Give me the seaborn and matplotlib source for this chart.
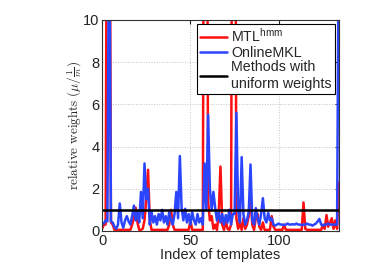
import numpy as np
import pandas as pd
import seaborn as sns
import matplotlib
matplotlib.use("Agg")
import matplotlib.pyplot as plt

# relative weights per template index
mtl_hmm = [0.1, 0.3, 0.3, 25, 25, 0.4, 0.3, 0.05, 0.05, 0.05,
           0.05, 0.05, 0.05, 0.05, 0.05, 0.05, 0.05, 0.3, 0.6, 1.1,
           0.4, 0.05, 0.05, 0.1, 0.5, 1.5, 2.9, 0.5, 0.05, 0.05,
           0.05, 0.05, 0.05, 0.05, 0.05, 0.05, 0.05, 0.05, 0.3, 1.0,
           0.3, 0.05, 0.05, 0.05, 0.05, 0.05, 0.05, 0.05, 0.05, 0.05,
           0.5, 0.05, 0.05, 0.05, 0.05, 0.05, 0.05, 0.05, 30, 30,
           1.4, 0.5, 0.7, 0.1, 0.3, 0.05, 0.8, 3.05, 0.3, 0.05,
           0.5, 0.1, 0.05, 0.3, 30, 30, 0.6, 0.1, 0.4, 0.05,
           0.6, 0.1, 0.3, 0.7, 1.6, 0.3, 0.05, 0.6, 0.8, 0.2,
           0.05, 0.4, 0.05, 0.05, 0.05, 0.05, 0.7, 0.2, 0.05, 0.05,
           0.05, 0.05, 0.05, 0.3, 0.05, 0.05, 0.05, 0.05, 0.05, 0.05,
           0.05, 0.05, 0.05, 0.05, 1.35, 0.1, 0.05, 0.05, 0.05, 0.05,
           0.05, 0.05, 0.05, 0.05, 0.05, 0.3, 0.1, 0.75, 0.2, 0.4,
           0.6, 0.1, 0.5, 0.1, 2.3]

online_mkl = [0.37, 0.35, 0.5, 0.45, 16, 0.45, 0.4, 0.2, 0.1, 0.3,
              1.3, 0.4, 0.15, 0.5, 0.7, 0.45, 0.3, 0.7, 1.2, 0.5,
              0.9, 0.4, 1.85, 0.6, 3.2, 1.5, 2.0, 0.3, 0.9, 0.4,
              0.7, 0.3, 0.8, 0.5, 1.0, 0.4, 0.7, 0.3, 0.9, 0.5,
              0.3, 0.8, 1.85, 0.6, 3.55, 1.1, 0.5, 1.05, 0.4, 0.8,
              0.3, 0.9, 0.5, 0.3, 0.8, 0.4, 0.6, 0.3, 3.2, 1.0,
              5.5, 2.0, 1.0, 1.85, 1.1, 0.5, 0.9, 0.4, 0.8, 0.3,
              0.75, 0.4, 1.0, 0.3, 0.8, 0.8, 5.6, 1.0, 0.4, 3.5,
              0.8, 0.3, 0.5, 0.9, 3.15, 0.5, 0.3, 1.08, 0.6, 0.3,
              0.8, 1.55, 0.6, 0.4, 0.85, 0.5, 0.6, 0.3, 0.25, 0.3,
              0.35, 0.3, 0.3, 0.28, 0.3, 0.35, 0.3, 0.3, 0.32, 0.3,
              0.35, 0.3, 0.3, 0.28, 0.3, 0.3, 0.35, 0.3, 0.3, 0.25,
              0.3, 0.35, 0.45, 0.57, 0.3, 0.25, 0.3, 0.3, 0.35, 0.3,
              0.3, 0.3, 0.3, 0.3, 15]

uniform_weight = 1.0
template_idx = np.arange(len(online_mkl))

df = pd.DataFrame({
    "template": np.concatenate([template_idx, template_idx]),
    "weight": mtl_hmm + online_mkl,
    "method": ["MTL$^{\\mathrm{hmm}}$"] * len(mtl_hmm) + ["OnlineMKL"] * len(online_mkl),
})

sns.set_style("white")
plt.rcParams["font.family"] = ["Liberation Sans", "DejaVu Sans"]
plt.rcParams["mathtext.fontset"] = "custom"
plt.rcParams["mathtext.rm"] = "Liberation Sans"
plt.rcParams["mathtext.it"] = "Liberation Sans:italic"

fig = plt.figure(figsize=(3.74, 2.63), dpi=100)
ax = fig.add_axes([0.273, 0.122, 0.633, 0.802])

sns.lineplot(data=df, x="template", y="weight", hue="method",
             palette=["#ff1010", "#2b45ff"], estimator=None, sort=False,
             lw=1.8, ax=ax)
ax.axhline(uniform_weight, color="k", lw=1.8,
           label="Methods with\nuniform weights")

ax.set_xlim(0, 134)
ax.set_ylim(0, 10)
ax.set_xticks([0, 50, 100])
ax.set_yticks([0, 2, 4, 6, 8, 10])
ax.grid(True, ls=":", color="#c4c4c4", lw=0.7)
ax.tick_params(direction="in", length=3, labelsize=10.5, top=True, right=True,
               colors="#222222", pad=2)
for s in ax.spines.values():
    s.set_color("#333333")
    s.set_linewidth(0.8)

ax.set_xlabel("Index of templates", fontsize=10.5, labelpad=0)
ax.set_ylabel(r"$\mathrm{relative\ weights}\ (\mu/\frac{1}{m})$", fontsize=9.5,
              math_fontfamily="cm", labelpad=-1)

h, l = ax.get_legend_handles_labels()
leg = ax.legend(h, l, loc="upper right", fontsize=10.3, frameon=True,
                fancybox=False, edgecolor="k", framealpha=1,
                handlelength=1.9, handletextpad=0.3, borderpad=0.2,
                labelspacing=0.05, borderaxespad=0.3)
leg.get_frame().set_linewidth(0.8)

fig.savefig("out.png", dpi=100)
